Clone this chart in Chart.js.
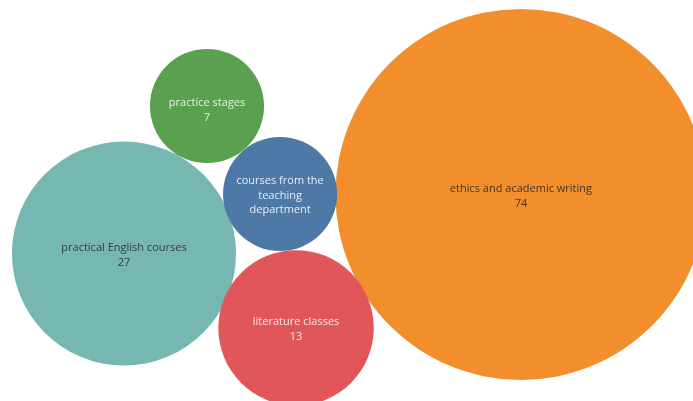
<!DOCTYPE html>
<html>
<head>
<meta charset="utf-8">
<script src="https://cdn.jsdelivr.net/npm/chart.js@4/dist/chart.umd.min.js"></script>
<style>
  html, body { margin: 0; padding: 0; background: #ffffff; }
  #wrap { width: 693px; height: 401px; }
</style>
</head>
<body>
<div id="wrap"><canvas id="c" width="693" height="401"></canvas></div>
<script>
// ---- data ----
const categories = [
  "ethics and academic writing",
  "practical English courses",
  "literature classes",
  "courses from the teaching department",
  "practice stages"
];
const values = [74, 27, 13, 7, 7];
// label lines as Tableau wrapped them; value shown only where it fit
const labelLines = [
  ["ethics and academic writing"],
  ["practical English courses"],
  ["literature classes"],
  ["courses from the", "teaching", "department"],
  ["practice stages"]
];
const valueShown = [true, true, true, false, true];
// packed-bubble layout centres (in radius units: a bubble's radius = sqrt(value))
const packX = [24.16, 5.75, 13.73, 12.99, 9.60];
const packY = [9.02, 11.76, 15.21, 9.00, 4.92];

// ---- style ----
const colors = ["#F28E2B", "#76B7B2", "#E15759", "#4E79A7", "#59A14F"];
const textColors = ["rgba(40,40,40,0.85)", "rgba(40,40,40,0.85)",
                    "rgba(255,255,255,0.85)", "rgba(255,255,255,0.85)", "rgba(255,255,255,0.85)"];
const labelNudge = [1.5, 1.5, 1.5, 1.5, 4];

const X_MAX = 32.14, Y_MAX = 18.60;
const canvasEl = document.getElementById('c');
// pixels per layout unit (chart area fills the canvas)
const unit = canvasEl.width / X_MAX;

const points = categories.map((c, i) => ({ x: packX[i], y: packY[i], r: Math.sqrt(values[i]) * unit }));

const labelPlugin = {
  id: 'bubbleLabels',
  afterDatasetsDraw(chart) {
    const ctx = chart.ctx;
    const meta = chart.getDatasetMeta(0);
    ctx.save();
    ctx.font = '11px "Open Sans", "Noto Sans", sans-serif';
    ctx.textAlign = 'center';
    ctx.textBaseline = 'middle';
    const lh = 14.8;
    meta.data.forEach((el, i) => {
      const lines = labelLines[i].slice();
      if (valueShown[i]) lines.push(String(values[i]));
      const y0 = el.y - (lines.length - 1) * lh / 2 + labelNudge[i];
      ctx.fillStyle = textColors[i];
      lines.forEach((t, k) => ctx.fillText(t, el.x, y0 + k * lh));
    });
    ctx.restore();
  }
};

new Chart(canvasEl, {
  type: 'bubble',
  data: {
    datasets: [{
      data: points,
      backgroundColor: colors,
      borderWidth: 0,
      hoverBorderWidth: 0,
      hoverRadius: 0,
      clip: false
    }]
  },
  options: {
    responsive: false,
    animation: false,
    devicePixelRatio: 1,
    events: [],
    layout: { padding: 0, autoPadding: false },
    plugins: { legend: { display: false }, tooltip: { enabled: false } },
    scales: {
      x: { type: 'linear', min: 0, max: X_MAX, display: false },
      y: { type: 'linear', min: 0, max: Y_MAX, reverse: true, display: false }
    }
  },
  plugins: [labelPlugin]
});
</script>
</body>
</html>
